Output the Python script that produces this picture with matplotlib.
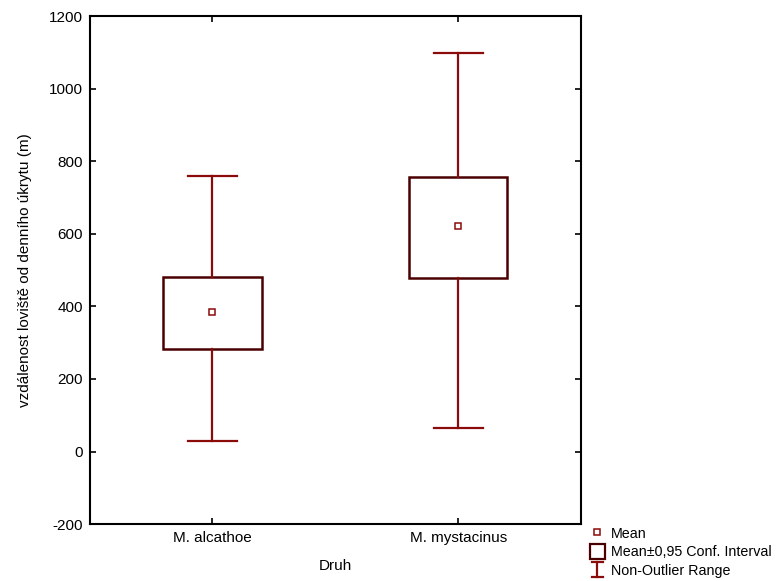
import matplotlib
matplotlib.use("Agg")
import matplotlib.pyplot as plt
from matplotlib.patches import Rectangle, Patch
from matplotlib.lines import Line2D
from matplotlib.legend_handler import HandlerBase

plt.rcParams['font.family'] = ['Liberation Sans', 'DejaVu Sans']
plt.rcParams['axes.unicode_minus'] = False

species = ['M. alcathoe', 'M. mystacinus']
means = [384, 621]
ci_low = [283, 479]
ci_high = [480, 757]
range_low = [30, 64]
range_high = [760, 1100]

whisker_col = '#8b0a0a'
box_col = '#4a0000'


class IBeamHandler(HandlerBase):
    def create_artists(self, legend, orig_handle, xdescent, ydescent,
                       width, height, fontsize, trans):
        cx = width / 2 - xdescent
        y0 = -ydescent
        y1 = height - ydescent
        w = width * 0.4
        arts = [Line2D([cx, cx], [y0, y1]),
                Line2D([cx - w, cx + w], [y0, y0]),
                Line2D([cx - w, cx + w], [y1, y1])]
        for a in arts:
            a.set_color(whisker_col)
            a.set_linewidth(1.6)
            a.set_transform(trans)
        return arts


fig = plt.figure(figsize=(7.79, 5.81), dpi=100)
ax = fig.add_axes([0.115, 0.098, 0.631, 0.874])

for i in range(len(species)):
    x = i + 1
    ax.plot([x, x], [range_low[i], ci_low[i]], color=whisker_col, lw=1.6)
    ax.plot([x, x], [ci_high[i], range_high[i]], color=whisker_col, lw=1.6)
    ax.plot([x - 0.1, x + 0.1], [range_low[i]] * 2, color=whisker_col, lw=1.6)
    ax.plot([x - 0.1, x + 0.1], [range_high[i]] * 2, color=whisker_col, lw=1.6)
    ax.add_patch(Rectangle((x - 0.2, ci_low[i]), 0.4, ci_high[i] - ci_low[i],
                           fill=False, edgecolor=box_col, lw=1.8))
    ax.plot(x, means[i], marker='s', ms=4.5, mfc='white', mec=whisker_col,
            mew=1.1, ls='none')

ax.set_xlim(0.5, 2.5)
ax.set_ylim(-200, 1200)
ax.set_yticks(range(-200, 1201, 200))
ax.set_xticks([1, 2])
ax.set_xticklabels(species)
ax.tick_params(direction='in', top=True, right=True, length=4, width=1.2,
               labelsize=11, pad=5)
for s in ax.spines.values():
    s.set_linewidth(1.5)

ax.set_xlabel('Druh', fontsize=11, labelpad=10)
ax.set_ylabel('vzdálenost loviště od denního úkrytu (m)', fontsize=11, labelpad=12)

handles = [
    Line2D([], [], marker='s', ms=4.5, mfc='white', mec=whisker_col, mew=1.1, ls='none'),
    Patch(facecolor='white', edgecolor=box_col, lw=1.6),
    Line2D([], [], color=whisker_col),
]
labels = ['Mean', 'Mean±0,95 Conf. Interval', 'Non-Outlier Range']
fig.legend(handles, labels, loc='lower left', bbox_to_anchor=(0.758, 0.006),
           frameon=False, fontsize=10.3, handlelength=0.98, handleheight=1.2,
           handletextpad=0.45, labelspacing=0.2, borderpad=0, borderaxespad=0,
           handler_map={handles[2]: IBeamHandler()})

fig.savefig('out.png', dpi=100)
